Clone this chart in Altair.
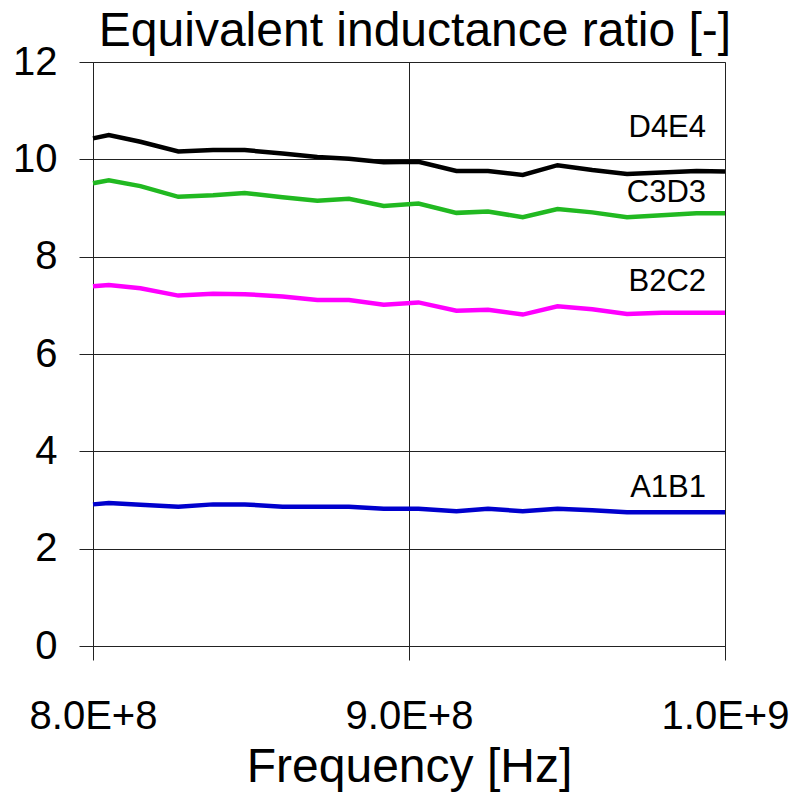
import altair as alt
import pandas as pd

freq_mhz = [800, 805, 815, 827, 838, 848, 860, 871, 881, 892,
            903, 915, 925, 936, 947, 958, 969, 980, 991, 1000]
d4e4 = [10.43, 10.50, 10.36, 10.16, 10.19, 10.19, 10.12, 10.05, 10.01, 9.94,
        9.95, 9.76, 9.76, 9.68, 9.88, 9.78, 9.70, 9.73, 9.76, 9.75]
c3d3 = [9.51, 9.57, 9.45, 9.23, 9.26, 9.31, 9.22, 9.15, 9.19, 9.04,
        9.09, 8.90, 8.93, 8.81, 8.98, 8.91, 8.81, 8.85, 8.89, 8.89]
b2c2 = [7.39, 7.42, 7.35, 7.20, 7.24, 7.23, 7.18, 7.11, 7.11, 7.01,
        7.06, 6.89, 6.91, 6.81, 6.98, 6.92, 6.82, 6.85, 6.85, 6.85]
a1b1 = [2.91, 2.94, 2.90, 2.86, 2.91, 2.91, 2.86, 2.86, 2.86, 2.82,
        2.82, 2.77, 2.82, 2.77, 2.82, 2.79, 2.75, 2.75, 2.75, 2.75]

series_names = ["D4E4", "C3D3", "B2C2", "A1B1"]
series_colors = ["#000000", "#21B921", "#FF00FF", "#0000CD"]
label_freq_mhz = [994, 994, 994, 994]
label_values = [10.64, 9.30, 7.48, 3.25]

rows = []
for name, vals in zip(series_names, [d4e4, c3d3, b2c2, a1b1]):
    for f, v in zip(freq_mhz, vals):
        rows.append({"series": name, "freq": f * 1e6, "ratio": v})
df = pd.DataFrame(rows)

lab = pd.DataFrame({"series": series_names,
                    "freq": [f * 1e6 for f in label_freq_mhz],
                    "ratio": label_values})

FONT = "Liberation Sans"

x_enc = alt.X("freq:Q",
              scale=alt.Scale(domain=[8e8, 1e9], nice=False, zero=False),
              axis=alt.Axis(values=[8e8, 9e8, 1e9],
                            labelExpr="datum.value == 800000000 ? '8.0E+8' : (datum.value == 900000000 ? '9.0E+8' : '1.0E+9')",
                            title="Frequency [Hz]", titleFontSize=48, titleFontWeight="normal",
                            titlePadding=7, titleFont=FONT, titleColor="#000000",
                            labelFontSize=40, labelFont=FONT, labelColor="#000000",
                            labelPadding=36, tickSize=14, tickColor="#222222",
                            domainColor="#222222", gridColor="#222222", grid=True,
                            labelFlush=False, labelOverlap=False))
y_enc = alt.Y("ratio:Q",
              scale=alt.Scale(domain=[0, 12], nice=False),
              axis=alt.Axis(values=[0, 2, 4, 6, 8, 10, 12], title=None,
                            labelFontSize=40, labelFont=FONT, labelColor="#000000",
                            labelPadding=22, tickSize=14, tickColor="#222222",
                            domainColor="#222222", gridColor="#222222", grid=True))

lines = alt.Chart(df).mark_line(strokeWidth=4.5).encode(
    x=x_enc, y=y_enc,
    color=alt.Color("series:N", scale=alt.Scale(domain=series_names, range=series_colors), legend=None),
    detail="series:N",
)

texts = alt.Chart(lab).mark_text(align="right", baseline="middle", fontSize=31, font=FONT,
                                 color="#000000").encode(
    x="freq:Q", y="ratio:Q", text="series:N")

chart = (lines + texts).properties(
    width=632, height=584,
    title=alt.TitleParams("Equivalent inductance ratio [-]", fontSize=48, font=FONT,
                          fontWeight="normal", color="#000000", anchor="middle",
                          offset=-14, dx=6),
    autosize=alt.AutoSizeParams(type="none"),
    padding={"left": 85, "top": 54, "right": 64, "bottom": 147},
).configure_view(stroke="#888888", strokeWidth=1)

chart.save("out.html", embed_options={"renderer": "svg", "actions": False})
